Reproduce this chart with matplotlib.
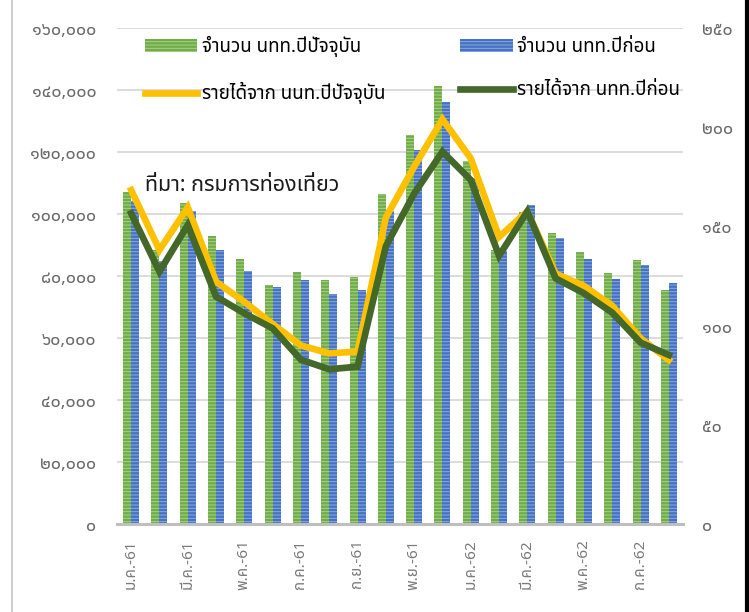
import matplotlib
matplotlib.use("Agg")
import matplotlib.pyplot as plt
from matplotlib.lines import Line2D
import numpy as np

plt.rcParams['font.family'] = ['Noto Sans Thai', 'DejaVu Sans']
plt.rcParams['hatch.linewidth'] = 0.7

# months Jan-61 .. Aug-62 (Thai Buddhist year)
months = ["ม.ค.-61", "ก.พ.-61", "มี.ค.-61", "เม.ย.-61", "พ.ค.-61", "มิ.ย.-61",
          "ก.ค.-61", "ส.ค.-61", "ก.ย.-61", "ต.ค.-61", "พ.ย.-61", "ธ.ค.-61",
          "ม.ค.-62", "ก.พ.-62", "มี.ค.-62", "เม.ย.-62", "พ.ค.-62", "มิ.ย.-62",
          "ก.ค.-62", "ส.ค.-62"]

# tourists (persons), this year / last year
visitors_now = [107000, 88500, 103400, 93000, 85500, 77000, 81300, 78700, 79700, 106500,
                125500, 141200, 117200, 88500, 100700, 94000, 87700, 81000, 85300, 75600]
visitors_prev = [104300, 85000, 101100, 88400, 81700, 76400, 78700, 74100, 75400, 100900,
                 120600, 136200, 111600, 88000, 102900, 92300, 85600, 79000, 83400, 77800]

# revenue (right axis)
revenue_now = [168.3, 138.1, 159.6, 122.1, 112.0, 100.8, 90.0, 86.0, 86.9, 154.5,
               180.1, 204.0, 184.3, 144.7, 157.6, 126.2, 120.0, 110.0, 93.6, 82.7]
revenue_prev = [156.6, 127.2, 150.7, 114.6, 106.2, 98.6, 82.8, 78.0, 79.3, 140.0,
                166.5, 187.7, 173.4, 135.2, 157.6, 123.8, 116.3, 106.5, 91.4, 85.2]

labels = ["จำนวน นทท.ปีปัจจุบัน", "จำนวน นทท.ปีก่อน",
          "รายได้จาก นนท.ปีปัจจุบัน", "รายได้จาก นทท.ปีก่อน"]
source_note = "ที่มา: กรมการท่องเที่ยว"

thai_digits = str.maketrans("0123456789", "๐๑๒๓๔๕๖๗๘๙")


def thai(n):
    return "{:,}".format(int(n)).translate(thai_digits)


fig = plt.figure(figsize=(7.49, 6.12), dpi=100)
ax = fig.add_axes([0.1562, 0.1438, 0.7557, 0.8104])
ax2 = ax.twinx()

x = np.arange(len(months))
w = 0.283
b1 = ax.bar(x - w / 2, visitors_now, w, color='#70AD47', edgecolor='#A9D18E',
            linewidth=0, hatch='-----', zorder=2, label=labels[0])
b2 = ax.bar(x + w / 2, visitors_prev, w, color='#4472C4', edgecolor='#8FAADC',
            linewidth=0, hatch='-----', zorder=2, label=labels[1])
l1, = ax2.plot(x, revenue_now, color='#FFC000', lw=4.8, solid_joinstyle='miter',
               label=labels[2], zorder=3)
l2, = ax2.plot(x, revenue_prev, color='#44682A', lw=4.8, solid_joinstyle='miter',
               label=labels[3], zorder=4)

ax.set_xlim(-0.5, len(months) - 0.5)
ax.set_ylim(0, 160000)
ax2.set_ylim(0, 250)
ax.set_yticks(np.arange(0, 160001, 20000))
ax.set_yticklabels([thai(v) for v in np.arange(0, 160001, 20000)])
ax2.set_yticks(np.arange(0, 251, 50))
ax2.set_yticklabels([thai(v) for v in np.arange(0, 251, 50)])
ax.set_xticks(x[::2])
ax.set_xticklabels(months[::2], rotation=90, va='top', ha='center')

ax.grid(axis='y', color='#D9D9D9', lw=1.3, zorder=0)
ax.set_axisbelow(True)
for a in (ax, ax2):
    for s in ('top', 'left', 'right', 'bottom'):
        a.spines[s].set_visible(False)
ax.spines['bottom'].set_visible(True)
ax.spines['bottom'].set_color('#BFBFBF')
ax.spines['bottom'].set_linewidth(2.2)

ax.tick_params(axis='y', length=0, pad=15, labelsize=12.8, labelcolor='#6A6A6A')
ax2.tick_params(axis='y', length=0, pad=14, labelsize=12.8, labelcolor='#6A6A6A')
ax.tick_params(axis='x', length=0, pad=11, labelsize=11, labelcolor='#7A7A7A')

ax.text(0.05, 0.683, source_note, transform=ax.transAxes, fontsize=15.5,
        color='#1A1A1A', va='center', ha='left')

ax2.legend([b1, l1, b2, l2], [labels[0], labels[2], labels[1], labels[3]],
           ncol=2, loc='upper left', bbox_to_anchor=(0.019, 1.018), frameon=False,
           fontsize=13.5, handlelength=2.8, handleheight=0.7, labelspacing=1.34,
           columnspacing=4.0, handletextpad=0.25)

# chart frame edges
fig.add_artist(Line2D([0.016, 0.016], [0, 1], color='#D0D0D0', lw=1.5))
fig.add_artist(Line2D([0.997, 0.997], [0, 1], color='#000000', lw=3))

fig.savefig('out.png', dpi=100)
